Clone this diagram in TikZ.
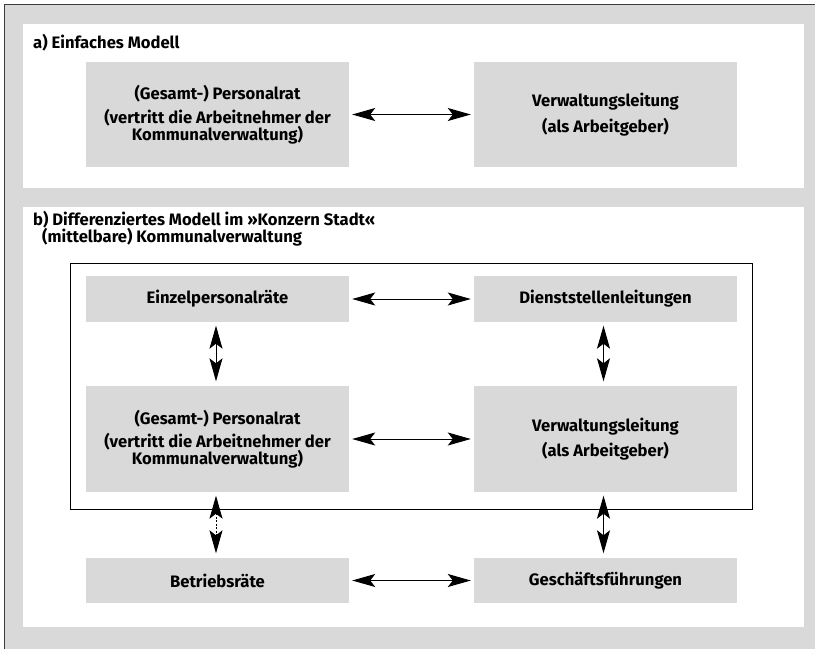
\documentclass[tikz,border=0pt]{standalone}
\usepackage{fontspec}
\setmainfont{Fira Sans}
\usetikzlibrary{arrows.meta}
\definecolor{panelgray}{RGB}{217,217,217}
\definecolor{bordergray}{RGB}{60,60,60}
\tikzset{
  box/.style={fill=panelgray, minimum width=263pt, align=center, inner sep=0pt,
    font=\fontsize{16.6pt}{17pt}\selectfont\bfseries},
  heading/.style={anchor=west, inner sep=0pt, align=left,
    font=\fontsize{16.6pt}{17pt}\selectfont\bfseries},
  biarrow/.style={{Stealth[length=23pt,width=13pt,inset=5pt]}-{Stealth[length=23pt,width=13pt,inset=5pt]}, line width=1pt},
  hshort/.style={shorten <=3pt, shorten >=3pt},
  vshort/.style={shorten <=3.5pt, shorten >=4.5pt},
}
\begin{document}
\begin{tikzpicture}[x=1pt,y=-1pt]
\useasboundingbox (0,0) rectangle (815,649);
% background
\fill[panelgray] (4,4) rectangle (815,649);
\draw[bordergray, line width=1.5pt] (4.5,649) -- (4.5,4.5) -- (815,4.5);
% panels
\fill[white] (23,24) rectangle (804,188);
\fill[white] (23,207) rectangle (804,627);
% inner frame
\draw[black, line width=0.9pt] (70,263) rectangle (752,509);

% headings
\node[heading] (ha) at (33,43) {a) Einfaches Modell};
\node[heading] (hb1) at (33,220) {b) Differenziertes Modell im »Konzern Stadt«};
\node[heading] (hb2) at (42,237) {(mittelbare) Kommunalverwaltung};

% panel a
\node[box, minimum height=105pt] (aP) at (217.5,114.5)
  {(Gesamt-) Personalrat\\[6.5pt] (vertritt die Arbeitnehmer der\\ Kommunalverwaltung)};
\node[box, minimum height=105pt] (aV) at (605.5,114.5)
  {Verwaltungsleitung\\[6.5pt](als Arbeitgeber)};
\draw[biarrow, hshort] (aP) -- (aV);

% panel b
\node[box, minimum height=46pt] (bE) at (217.5,299) {Einzelpersonalräte};
\node[box, minimum height=46pt] (bD) at (605.5,299) {Dienststellenleitungen};
\node[box, minimum height=106pt] (bP) at (217.5,439)
  {(Gesamt-) Personalrat\\[6.5pt] (vertritt die Arbeitnehmer der\\ Kommunalverwaltung)};
\node[box, minimum height=106pt] (bV) at (605.5,439)
  {Verwaltungsleitung\\[6.5pt](als Arbeitgeber)};
\node[box, minimum height=45pt] (bB) at (217.5,580.5) {Betriebsräte};
\node[box, minimum height=45pt] (bG) at (605.5,580.5) {Geschäftsführungen};

\draw[biarrow, hshort] (bE) -- (bD);
\draw[biarrow, hshort] (bP) -- (bV);
\draw[biarrow, hshort] (bB) -- (bG);

\draw[biarrow, vshort] ([xshift=-1.5pt]bE.south) -- ([xshift=-1.5pt]bP.north);
\draw[biarrow, vshort] ([xshift=-2pt]bD.south) -- ([xshift=-2pt]bV.north);
\draw[biarrow, vshort, dash pattern=on 2pt off 1.5pt] ([xshift=-1.5pt]bP.south) -- ([xshift=-1.5pt]bB.north);
\draw[biarrow, vshort] ([xshift=-2pt]bV.south) -- ([xshift=-2pt]bG.north);
\end{tikzpicture}
\end{document}
